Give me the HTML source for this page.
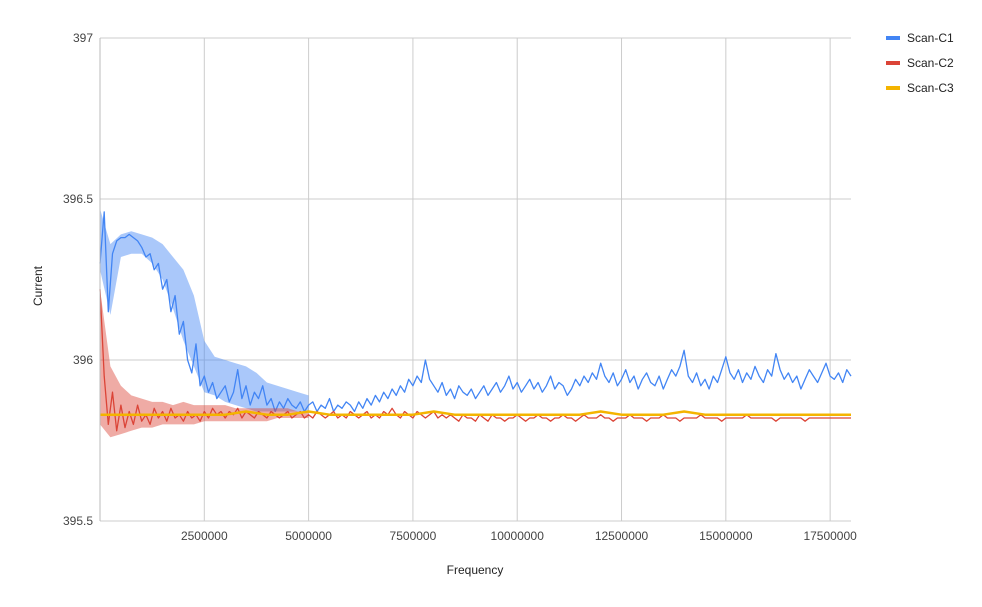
<!DOCTYPE html>
<html><head><meta charset="utf-8">
<style>
body{margin:0;background:#fff;font-family:"Liberation Sans",Arial,sans-serif;}
svg{display:block}
</style></head>
<body>
<svg id="chart" width="982" height="607">
<g id="grid"></g>
<g id="series"></g>
<g id="axes"></g>
<text x="475" y="574" text-anchor="middle" font-size="12" fill="#222">Frequency</text>
<text transform="translate(42,286) rotate(-90)" text-anchor="middle" font-size="12" fill="#222">Current</text>
<g>
<g><rect x="886" y="36" width="14" height="4" fill="#4285f4"/><text x="907" y="42" font-size="12" fill="#222">Scan-C1</text></g>
<g><rect x="886" y="61" width="14" height="4" fill="#db4437"/><text x="907" y="67" font-size="12" fill="#222">Scan-C2</text></g>
<g><rect x="886" y="86" width="14" height="4" fill="#f4b400"/><text x="907" y="92" font-size="12" fill="#222">Scan-C3</text></g>
</g>
</svg>
<script>
const xTicks = [2500000,5000000,7500000,10000000,12500000,15000000,17500000];
const yTicks = [395.5,396,396.5,397];
const scanC1 = [396.30,396.46,396.15,396.33,396.37,396.38,396.38,396.39,396.38,396.37,396.35,396.32,396.33,396.28,396.30,396.22,396.25,396.15,396.20,396.08,396.12,396.00,395.96,396.05,395.92,395.95,395.90,395.93,395.88,395.90,395.92,395.87,395.90,395.97,395.88,395.92,395.86,395.90,395.88,395.92,395.86,395.88,395.84,395.87,395.85,395.88,395.86,395.85,395.87,395.84,395.86,395.87,395.84,395.86,395.85,395.88,395.84,395.86,395.85,395.87,395.86,395.84,395.87,395.85,395.88,395.86,395.89,395.87,395.90,395.88,395.91,395.89,395.92,395.90,395.94,395.92,395.95,395.93,396.00,395.94,395.92,395.90,395.93,395.89,395.91,395.88,395.92,395.90,395.89,395.91,395.88,395.90,395.92,395.89,395.91,395.93,395.90,395.92,395.95,395.91,395.93,395.90,395.92,395.94,395.91,395.93,395.90,395.92,395.95,395.91,395.93,395.92,395.89,395.91,395.94,395.92,395.95,395.93,395.96,395.94,395.99,395.95,395.93,395.96,395.92,395.94,395.97,395.93,395.95,395.91,395.94,395.96,395.93,395.92,395.95,395.91,395.94,395.97,395.95,395.98,396.03,395.95,395.93,395.96,395.92,395.94,395.91,395.95,395.93,395.97,396.01,395.96,395.94,395.97,395.93,395.96,395.94,395.98,395.95,395.93,395.97,395.95,396.02,395.97,395.94,395.96,395.93,395.95,395.91,395.94,395.97,395.95,395.93,395.96,395.99,395.95,395.94,395.96,395.93,395.97,395.95];
const scanC2 = [396.22,395.95,395.80,395.90,395.78,395.86,395.79,395.84,395.80,395.86,395.81,395.83,395.80,395.85,395.82,395.84,395.81,395.85,395.82,395.83,395.81,395.84,395.82,395.83,395.81,395.84,395.82,395.85,395.83,395.84,395.82,395.84,395.83,395.85,395.82,395.84,395.83,395.82,395.84,395.83,395.82,395.84,395.83,395.82,395.83,395.84,395.82,395.83,395.84,395.82,395.83,395.82,395.84,395.83,395.82,395.83,395.84,395.82,395.83,395.82,395.84,395.83,395.82,395.83,395.84,395.82,395.83,395.82,395.84,395.83,395.85,395.83,395.82,395.84,395.83,395.82,395.84,395.83,395.82,395.83,395.84,395.82,395.83,395.82,395.83,395.82,395.81,395.83,395.82,395.82,395.81,395.83,395.82,395.81,395.83,395.82,395.82,395.81,395.82,395.82,395.83,395.82,395.81,395.82,395.82,395.83,395.82,395.82,395.81,395.82,395.82,395.83,395.82,395.82,395.81,395.82,395.83,395.82,395.82,395.82,395.83,395.82,395.82,395.81,395.82,395.82,395.82,395.83,395.82,395.82,395.82,395.81,395.82,395.82,395.82,395.83,395.82,395.82,395.82,395.81,395.82,395.82,395.82,395.82,395.83,395.82,395.82,395.82,395.82,395.81,395.82,395.82,395.82,395.82,395.82,395.83,395.82,395.82,395.82,395.82,395.82,395.82,395.81,395.82,395.82,395.82,395.82,395.82,395.82,395.81,395.82,395.82,395.82,395.82,395.82,395.82,395.82,395.82,395.82,395.82,395.82];
const scanC3 = [395.83,395.83,395.83,395.83,395.83,395.83,395.83,395.84,395.83,395.83,395.84,395.83,395.83,395.83,395.83,395.83,395.84,395.83,395.83,395.83,395.83,395.83,395.83,395.83,395.84,395.83,395.83,395.83,395.84,395.83,395.83,395.83,395.83,395.83,395.83,395.83,395.83];
// noise envelope for the dense early section (0 - 5,000,000 every 250,000)
const envC1Low  = [396.28,396.14,396.32,396.33,396.33,396.30,396.25,396.16,396.06,395.98,395.90,395.89,395.87,395.86,395.85,395.84,395.84,395.84,395.84,395.84,395.84];
const envC1High = [396.47,396.36,396.39,396.40,396.39,396.38,396.36,396.32,396.28,396.20,396.06,396.01,396.00,395.99,395.98,395.96,395.93,395.92,395.91,395.90,395.89];
const envC2Low  = [395.80,395.76,395.77,395.78,395.79,395.79,395.80,395.80,395.80,395.80,395.81,395.81,395.81,395.81,395.81,395.81,395.81,395.82,395.82,395.82,395.82];
const envC2High = [396.22,395.98,395.92,395.89,395.88,395.87,395.87,395.86,395.87,395.86,395.86,395.86,395.86,395.85,395.85,395.85,395.85,395.85,395.85,395.84,395.84];
const envStep = 250000;

const X0=100, X1=851, Y0=521, Y1=38, xMax=18000000, yMin=395.5, yMax=397;
const xs = v => X0 + v/xMax*(X1-X0);
const ys = v => Y0 - (v-yMin)/(yMax-yMin)*(Y0-Y1);
const NS='http://www.w3.org/2000/svg';
const grid=document.getElementById('grid'), axes=document.getElementById('axes'), ser=document.getElementById('series');
function mk(tag,attrs,parent){const e=document.createElementNS(NS,tag);for(const k in attrs)e.setAttribute(k,attrs[k]);parent.appendChild(e);return e;}
yTicks.forEach(t=>{
  const l=mk('line',{x1:X0,x2:X1,y1:ys(t),y2:ys(t),stroke:'#ccc','stroke-width':1},grid);
  
  
  const tx=mk('text',{x:93,y:ys(t)+4,'text-anchor':'end','font-size':12,fill:'#444'},axes);
  tx.textContent=String(t);
  
  
});
xTicks.forEach(t=>{
  const l=mk('line',{x1:xs(t),x2:xs(t),y1:Y1,y2:Y0,stroke:'#ccc','stroke-width':1},grid);
  
  
  const tx=mk('text',{x:xs(t),y:540,'text-anchor':'middle','font-size':12,fill:'#444'},axes);
  tx.textContent=String(t);
  
  
});
const lb=mk('line',{x1:X0,x2:X0,y1:Y1,y2:Y0,stroke:'#bbb','stroke-width':1},axes);


function band(lo,hi,color,name){
  const top=hi.map((v,i)=>xs(i*envStep).toFixed(1)+','+ys(v).toFixed(1));
  const bot=lo.map((v,i)=>xs(i*envStep).toFixed(1)+','+ys(v).toFixed(1)).reverse();
  const p=mk('polygon',{points:top.concat(bot).join(' '),fill:color,'fill-opacity':0.45},ser);
  
  
}
function draw(arr,color,name,w){
  const st=xMax/(arr.length-1);
  const d=arr.map((v,i)=>(i?'L':'M')+xs(i*st).toFixed(1)+','+ys(v).toFixed(1)).join('');
  const p=mk('path',{d:d,fill:'none',stroke:color,'stroke-width':w,'stroke-linejoin':'round'},ser);
  
  
}
band(envC1Low,envC1High,'#4285f4','scan-c1-noise-band');
draw(scanC1,'#4285f4','series-scan-c1',1.3);
band(envC2Low,envC2High,'#db4437','scan-c2-noise-band');
draw(scanC2,'#db4437','series-scan-c2',1.3);
draw(scanC3,'#f4b400','series-scan-c3',2.5);
</script>
</body></html>
